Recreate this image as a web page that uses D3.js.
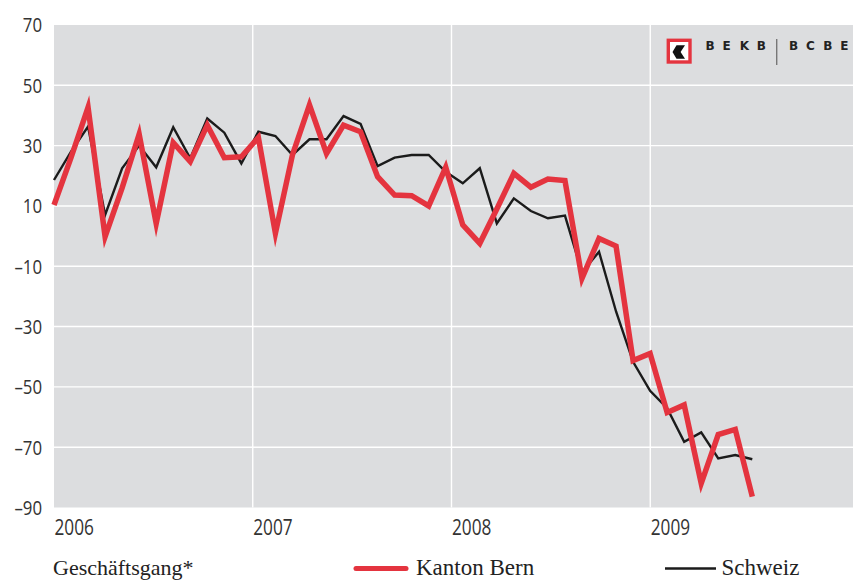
<!DOCTYPE html>
<html>
<head>
<meta charset="utf-8">
<script src="https://cdn.jsdelivr.net/npm/d3@7/dist/d3.min.js"></script>
<style>
  body { margin: 0; background: #fff; }
  svg { display: block; }
</style>
</head>
<body>
<svg id="chart" width="853" height="580"></svg>
<script>
// Monthly index, Jan 2006 .. Jun 2009
const months = d3.timeMonth.range(new Date(2006, 0, 1), new Date(2009, 6, 1));

const kantonBern = [
  10.3, 26, 42.7, -0.2, 16, 33.8, 4.2, 31, 24.7, 36.8, 26, 26.3,
  32.7, 0.9, 26.9, 43.5, 27.4, 36.8, 34.6, 19.7, 13.6, 13.4, 10, 22.8,
  3.7, -2.4, 9, 20.8, 16.2, 18.9, 18.4, -14, -0.8, -3.3, -41.3, -38.9,
  -58.5, -56, -82, -65.8, -64.1, -86.4
];

const schweiz = [
  18.6, 28, 36.3, 7, 22.5, 30, 22.8, 36.1, 25.8, 39, 34.3, 24.1,
  34.6, 33.2, 26.9, 32.1, 32.1, 39.8, 37.2, 23.2, 26, 26.9, 26.9, 21.3,
  17.5, 22.5, 4.2, 12.5, 8.3, 5.9, 6.8, -12, -5.2, -25, -41.7, -51.3,
  -57.1, -68.2, -65.1, -73.7, -72.6, -74
];

const yTicks = [70, 50, 30, 10, -10, -30, -50, -70, -90];
const years = [2006, 2007, 2008, 2009];

const legendTitle = 'Geschäftsgang*';
const seriesNames = ['Kanton Bern', 'Schweiz'];

const RED = '#e4343f';
const BLACK = '#1b1b1b';
const PANEL = '#dcdddf';
const SANS = '"Open Sans", "DejaVu Sans Condensed", sans-serif';
const SERIF = '"Liberation Serif", "DejaVu Serif", serif';
const SQUEEZE = 0.82; // axis font is a condensed face in the original

const plot = { left: 54, right: 853, top: 25, bottom: 507.5 };

const svg = d3.select('#chart');

const x = d3.scalePoint()
  .domain(months.map(function (d, i) { return i; }))
  .range([plot.left, 752.3]);

// year dividers sit on their own scale (they do not line up with the monthly points)
const xYear = d3.scaleLinear()
  .domain([2006, 2010])
  .range([plot.left, 849]);

const y = d3.scaleLinear()
  .domain([-90, 70])
  .range([plot.bottom, plot.top]);

// panel
svg.append('rect')
  .attr('x', plot.left)
  .attr('y', plot.top)
  .attr('width', plot.right - plot.left)
  .attr('height', plot.bottom - plot.top)
  .attr('fill', PANEL);

// horizontal grid
svg.append('g')
  .selectAll('line')
  .data(yTicks.filter(function (d) { return d > -90 && d < 70; }))
  .join('line')
  .attr('x1', plot.left)
  .attr('x2', plot.right)
  .attr('y1', function (d) { return y(d); })
  .attr('y2', function (d) { return y(d); })
  .attr('stroke', '#fff')
  .attr('stroke-width', 1.4);

// vertical year lines
svg.append('g')
  .selectAll('line')
  .data(years.slice(1))
  .join('line')
  .attr('x1', function (d) { return xYear(d); })
  .attr('x2', function (d) { return xYear(d); })
  .attr('y1', plot.top)
  .attr('y2', plot.bottom)
  .attr('stroke', '#fff')
  .attr('stroke-width', 1.4);

// y labels
svg.append('g')
  .selectAll('text')
  .data(yTicks)
  .join('text')
  .attr('transform', function (d) { return 'translate(42,' + y(d) + ') scale(' + SQUEEZE + ',1)'; })
  .attr('dy', '0.36em')
  .attr('text-anchor', 'end')
  .attr('font-family', SANS)
  .attr('font-size', 20.5)
  .attr('fill', '#333')
  .text(function (d) { return d < 0 ? '\u2013' + Math.abs(d) : d; });

// x labels
svg.append('g')
  .selectAll('text')
  .data(years)
  .join('text')
  .attr('transform', function (d) { return 'translate(' + (xYear(d) + 0.5) + ',535) scale(' + SQUEEZE + ',1)'; })
  .attr('font-family', SANS)
  .attr('font-size', 21)
  .attr('fill', '#333')
  .text(function (d) { return d; });

// lines
const line = d3.line()
  .x(function (d, i) { return x(i); })
  .y(function (d) { return y(d); });

svg.append('path')
  .datum(schweiz)
  .attr('d', line)
  .attr('fill', 'none')
  .attr('stroke', BLACK)
  .attr('stroke-width', 2.4)
  .attr('stroke-linejoin', 'miter');

svg.append('path')
  .datum(kantonBern)
  .attr('d', line)
  .attr('fill', 'none')
  .attr('stroke', RED)
  .attr('stroke-width', 5.5)
  .attr('stroke-linejoin', 'miter')
  .attr('stroke-miterlimit', 6);

// logo
const logo = svg.append('g');
logo.append('rect')
  .attr('x', 668.3).attr('y', 40.3)
  .attr('width', 21.7).attr('height', 21.7)
  .attr('fill', '#fff')
  .attr('stroke', RED)
  .attr('stroke-width', 3.4);
logo.append('path')
  .attr('d', 'M672.5,52 L676.5,45.3 L685,45.3 L680.6,52 L685,58.7 L676.5,58.7 Z')
  .attr('fill', '#111');

const logoLetters = ['B', 'E', 'K', 'B'];
const logoLetters2 = ['B', 'C', 'B', 'E'];
logo.append('g')
  .selectAll('text')
  .data(logoLetters)
  .join('text')
  .attr('x', function (d, i) { return 705.5 + i * 17.1; })
  .attr('y', 49.5)
  .attr('font-family', '"DejaVu Sans", sans-serif')
  .attr('font-weight', 'bold')
  .attr('font-size', 12)
  .attr('fill', '#222')
  .text(function (d) { return d; });
logo.append('g')
  .selectAll('text')
  .data(logoLetters2)
  .join('text')
  .attr('x', function (d, i) { return 789 + i * 17.1; })
  .attr('y', 49.5)
  .attr('font-family', '"DejaVu Sans", sans-serif')
  .attr('font-weight', 'bold')
  .attr('font-size', 12)
  .attr('fill', '#222')
  .text(function (d) { return d; });
logo.append('line')
  .attr('x1', 776.7).attr('x2', 776.7)
  .attr('y1', 39).attr('y2', 65)
  .attr('stroke', '#777')
  .attr('stroke-width', 1.4);

// legend
svg.append('text')
  .attr('x', 53)
  .attr('y', 575)
  .attr('font-family', SERIF)
  .attr('font-size', 22)
  .attr('fill', '#222')
  .text(legendTitle);

const legendItems = [
  { name: seriesNames[0], color: RED, width: 5, x1: 356, x2: 406, tx: 416 },
  { name: seriesNames[1], color: BLACK, width: 2.4, x1: 665, x2: 716, tx: 721.5 }
];
const legend = svg.append('g')
  .selectAll('g')
  .data(legendItems)
  .join('g');
legend.append('line')
  .attr('x1', function (d) { return d.x1; })
  .attr('x2', function (d) { return d.x2; })
  .attr('y1', 568.5)
  .attr('y2', 568.5)
  .attr('stroke', function (d) { return d.color; })
  .attr('stroke-width', function (d) { return d.width; })
  .attr('stroke-linecap', function (d) { return d.width > 3 ? 'round' : 'butt'; });
legend.append('text')
  .attr('x', function (d) { return d.tx; })
  .attr('y', 575)
  .attr('font-family', SERIF)
  .attr('font-size', 23)
  .attr('fill', '#222')
  .text(function (d) { return d.name; });
</script>
</body>
</html>
